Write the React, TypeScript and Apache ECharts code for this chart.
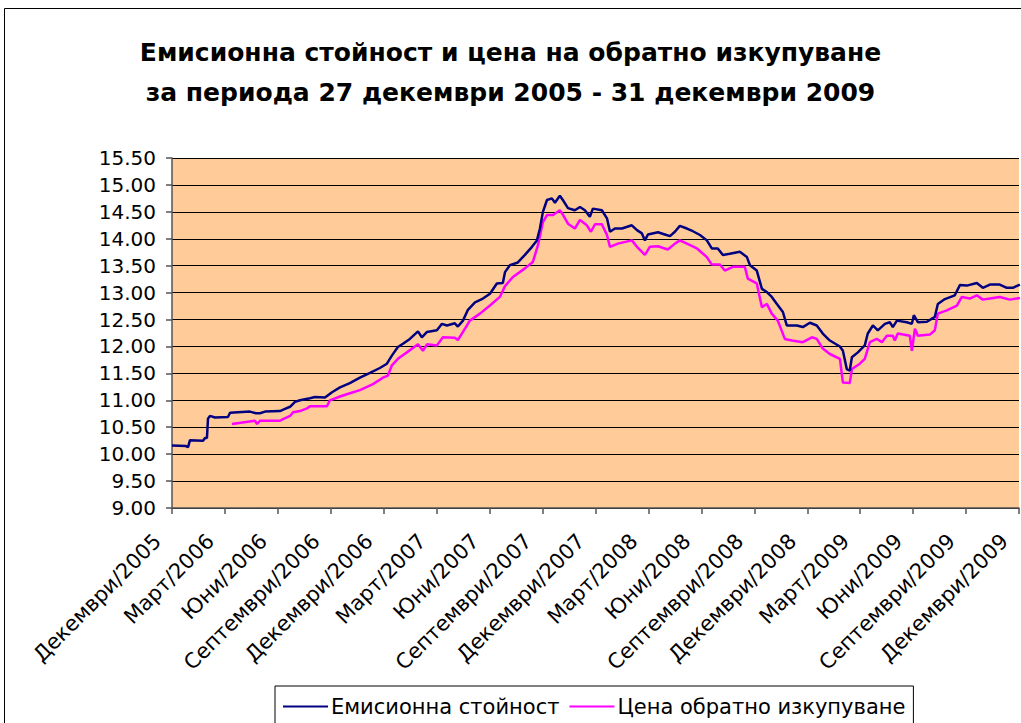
import React, { useEffect, useRef } from "react";
import * as echarts from "echarts";

const titleText = "Емисионна стойност и цена на обратно изкупуване\nза периода 27 декември 2005 - 31 декември 2009";
const seriesNames = ["Емисионна стойност", "Цена обратно изкупуване"];
const xTickLabels = [
  "Декември/2005", "Март/2006", "Юни/2006", "Септември/2006",
  "Декември/2006", "Март/2007", "Юни/2007", "Септември/2007",
  "Декември/2007", "Март/2008", "Юни/2008", "Септември/2008",
  "Декември/2008", "Март/2009", "Юни/2009", "Септември/2009",
  "Декември/2009",
];
// x positions: months since 27 Dec 2005
const issueMonths = [
  0, 0.79, 0.91, 1.02, 1.76, 1.87, 1.98, 2.04, 2.15, 2.44, 3.17, 3.29, 4.42, 4.76, 4.99, 5.27,
  6.12, 6.4, 6.69, 6.97, 7.25, 7.82, 8.1, 8.67, 9.07, 9.52, 10.08, 10.65, 11.22, 11.78, 12.18,
  12.46, 12.8, 13.09, 13.48, 13.94, 14.16, 14.45, 15.01, 15.3, 15.58, 16.03, 16.2, 16.49, 16.77,
  17.17, 17.62, 18.02, 18.41, 18.75, 18.87, 19.15, 19.6, 20.0, 20.4, 20.68, 20.85, 21.02, 21.25,
  21.53, 21.7, 21.98, 22.15, 22.44, 22.83, 23.12, 23.4, 23.68, 23.85, 24.36, 24.65, 24.82, 25.1,
  25.5, 26.06, 26.35, 26.63, 26.8, 26.97, 27.54, 27.93, 28.22, 28.5, 28.78, 29.18, 29.52, 29.92,
  30.31, 30.59, 30.93, 31.22, 31.61, 32.18, 32.58, 32.75, 33.14, 33.43, 33.71, 33.99, 34.28,
  34.62, 34.84, 35.41, 35.75, 36.15, 36.54, 36.88, 37.28, 37.85, 38.02, 38.24, 38.41, 38.53,
  38.87, 39.26, 39.43, 39.72, 40.0, 40.4, 40.68, 40.85, 41.08, 41.64, 41.93, 42.04, 42.27, 42.78,
  43.23, 43.4, 43.8, 44.36, 44.65, 45.04, 45.61, 45.95, 46.35, 46.91, 47.31, 47.65, 48.05,
];
const issueValues = [
  10.16, 10.15, 10.13, 10.26, 10.25, 10.3, 10.3, 10.66, 10.71, 10.68, 10.69, 10.77, 10.79, 10.76, 10.76, 10.79,
  10.8, 10.84, 10.88, 10.97, 11.0, 11.04, 11.06, 11.05, 11.15, 11.24, 11.32, 11.42, 11.51, 11.6, 11.68,
  11.83, 11.99, 12.05, 12.14, 12.28, 12.17, 12.27, 12.3, 12.42, 12.39, 12.43, 12.37, 12.48, 12.68,
  12.82, 12.89, 12.98, 13.17, 13.18, 13.38, 13.51, 13.56, 13.7, 13.85, 13.97, 14.19, 14.5, 14.72,
  14.75, 14.67, 14.8, 14.72, 14.57, 14.53, 14.59, 14.53, 14.41, 14.56, 14.53, 14.38, 14.13, 14.19,
  14.19, 14.25, 14.16, 14.1, 13.97, 14.08, 14.12, 14.08, 14.05, 14.13, 14.24, 14.19, 14.14, 14.07,
  13.97, 13.82, 13.82, 13.7, 13.72, 13.76, 13.66, 13.51, 13.41, 13.07, 13.01, 12.92, 12.79,
  12.64, 12.39, 12.39, 12.36, 12.44, 12.39, 12.24, 12.11, 12.0, 11.92, 11.58, 11.55, 11.8,
  11.89, 12.02, 12.24, 12.39, 12.3, 12.42, 12.45, 12.36, 12.48, 12.45, 12.42, 12.58, 12.45, 12.46,
  12.55, 12.79, 12.88, 12.95, 13.14, 13.13, 13.18, 13.09, 13.15, 13.15, 13.09, 13.09, 13.15,
];
const redeemMonths = [
  3.4, 4.7, 4.82, 4.99, 6.12, 6.29, 6.69, 6.86, 7.25, 7.65, 7.82, 8.78, 8.95, 9.52, 10.08, 10.65,
  11.39, 11.95, 12.24, 12.46, 12.8, 13.31, 13.94, 14.22, 14.45, 15.01, 15.35, 16.03, 16.2, 16.49,
  16.88, 17.45, 18.02, 18.58, 18.87, 19.32, 20.0, 20.45, 20.74, 21.02, 21.25, 21.59, 21.98, 22.15,
  22.44, 22.83, 23.12, 23.51, 23.74, 23.97, 24.36, 24.65, 24.82, 25.27, 26.06, 26.35, 26.8, 27.08,
  27.54, 28.1, 28.5, 28.78, 29.18, 29.75, 30.31, 30.59, 31.05, 31.33, 31.78, 32.46, 32.63, 33.14,
  33.43, 33.71, 33.99, 34.33, 34.73, 35.13, 35.75, 36.26, 36.54, 36.88, 37.28, 37.85, 38.02, 38.41,
  38.53, 38.98, 39.26, 39.55, 39.94, 40.23, 40.51, 40.85, 40.96, 41.13, 41.81, 41.93, 42.1, 42.27,
  42.95, 43.23, 43.4, 43.91, 44.48, 44.76, 45.21, 45.61, 45.95, 46.35, 46.91, 47.48, 48.05,
];
const redeemValues = [
  10.56, 10.62, 10.56, 10.62, 10.62, 10.65, 10.71, 10.78, 10.8, 10.85, 10.89, 10.89, 11.0, 11.07, 11.13, 11.19,
  11.3, 11.42, 11.46, 11.65, 11.77, 11.89, 12.04, 11.92, 12.04, 12.02, 12.17, 12.16, 12.12, 12.27,
  12.48, 12.61, 12.76, 12.92, 13.12, 13.29, 13.45, 13.57, 13.88, 14.31, 14.44, 14.44, 14.53, 14.45,
  14.28, 14.19, 14.35, 14.25, 14.13, 14.27, 14.27, 14.07, 13.85, 13.91, 13.97, 13.85, 13.7, 13.85,
  13.86, 13.8, 13.91, 13.97, 13.91, 13.82, 13.66, 13.52, 13.52, 13.41, 13.48, 13.48, 13.26, 13.17,
  12.73, 12.79, 12.61, 12.48, 12.14, 12.11, 12.08, 12.17, 12.14, 11.96, 11.86, 11.77, 11.33, 11.32,
  11.58, 11.68, 11.77, 12.08, 12.14, 12.08, 12.2, 12.2, 12.11, 12.24, 12.2, 11.92, 12.33, 12.2,
  12.22, 12.3, 12.61, 12.67, 12.76, 12.92, 12.89, 12.95, 12.87, 12.89, 12.92, 12.87, 12.9,
];

const FONT = "'DejaVu Sans', 'Liberation Sans', Arial, sans-serif";

export default function App() {
  const ref = useRef<HTMLDivElement>(null);
  useEffect(() => {
    if (!ref.current) return;
    const chart = echarts.init(ref.current, null, { renderer: "svg" });
    const issueData = issueMonths.map((m, i) => [m, issueValues[i]]);
    const redeemData = redeemMonths.map((m, i) => [m, redeemValues[i]]);
    chart.setOption({
      animation: false,
      backgroundColor: "#ffffff",
      graphic: [
        {
          type: "rect",
          shape: { x: 4.5, y: 8.5, width: 1200, height: 900 },
          style: { fill: "none", stroke: "#000", lineWidth: 1 },
          silent: true,
          z: 0,
        },
      ],
      title: {
        text: titleText,
        left: "center",
        top: 27,
        textStyle: {
          fontFamily: FONT,
          fontSize: 25,
          fontWeight: "bold",
          color: "#000",
          lineHeight: 40,
        },
      },
      legend: {
        left: 275,
        top: 686,
        orient: "horizontal",
        backgroundColor: "#fff",
        borderColor: "#000",
        borderWidth: 1,
        borderRadius: 0,
        padding: [10, 8, 20, 8],
        itemGap: 10,
        itemWidth: 45,
        itemHeight: 2,
        icon: "rect",
        textStyle: { fontFamily: FONT, fontSize: 21, color: "#000", padding: [0, 0, 0, -2] },
        data: seriesNames,
      },
      grid: {
        left: 172,
        right: 1021 - 1019,
        top: 158,
        bottom: 723 - 508,
        show: true,
        backgroundColor: "#FFCC99",
        borderWidth: 0,
        containLabel: false,
        outerBoundsMode: "none",
      },
      xAxis: {
        type: "value",
        min: 0,
        max: 48,
        interval: 3,
        axisLine: { show: true, lineStyle: { color: "#555", width: 1.5 } },
        axisTick: { show: true, length: 6, inside: false, lineStyle: { color: "#555", width: 1.5 } },
        splitLine: { show: false },
        axisLabel: {
          rotate: 45,
          margin: 30,
          verticalAlign: "bottom",
          padding: [0, 10, 0, 0],
          fontFamily: FONT,
          fontSize: 21,
          color: "#000",
          formatter: (v: number) => {
            const k = Math.round(v / 3);
            return Math.abs(v - k * 3) < 1e-6 ? xTickLabels[k] ?? "" : "";
          },
        },
      },
      yAxis: {
        type: "value",
        min: 9,
        max: 15.5,
        interval: 0.5,
        axisLine: { show: true, lineStyle: { color: "#555", width: 1.5 } },
        axisTick: { show: true, length: 6, inside: false, lineStyle: { color: "#555", width: 1.5 } },
        splitLine: { show: true, lineStyle: { color: "#000", width: 1 } },
        axisLabel: {
          margin: 16,
          fontFamily: FONT,
          fontSize: 20,
          color: "#000",
          formatter: (v: number) => v.toFixed(2),
        },
      },
      series: [
        {
          name: seriesNames[0],
          type: "line",
          data: issueData,
          showSymbol: false,
          symbol: "none",
          clip: true,
          lineStyle: { color: "#000080", width: 2.5 },
          itemStyle: { color: "#000080" },
          z: 3,
        },
        {
          name: seriesNames[1],
          type: "line",
          data: redeemData,
          showSymbol: false,
          symbol: "none",
          clip: true,
          lineStyle: { color: "#FF00FF", width: 2.5 },
          itemStyle: { color: "#FF00FF" },
          z: 2,
        },
      ],
    });
    return () => chart.dispose();
  }, []);
  return (
    <div
      ref={ref}
      style={{ position: "fixed", left: 0, top: 0, width: 1021, height: 723 }}
    />
  );
}
